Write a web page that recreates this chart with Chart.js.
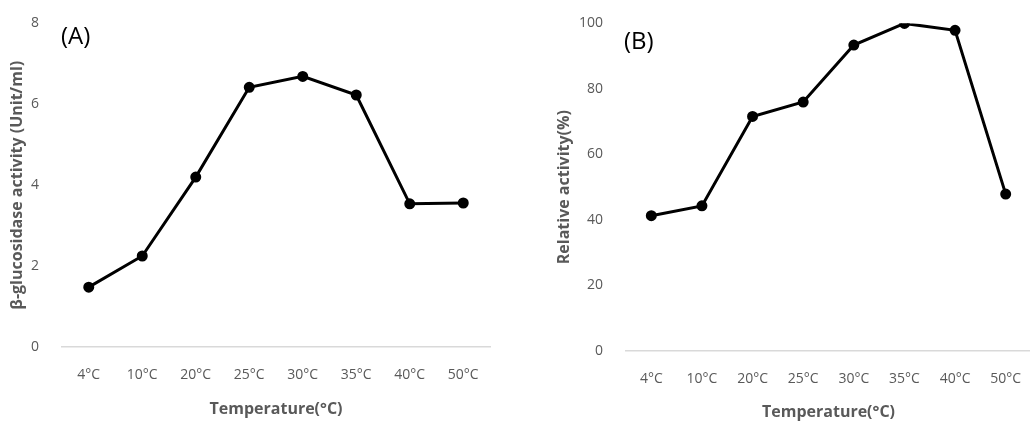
<!DOCTYPE html>
<html>
<head>
<meta charset="utf-8">
<script src="https://cdn.jsdelivr.net/npm/chart.js@4.4.0/dist/chart.umd.min.js"></script>
<style>
  html, body { margin: 0; padding: 0; background: #fff; overflow: hidden; }
  #wrap { position: relative; width: 1030px; height: 426px; overflow: hidden; }
  canvas { position: absolute; top: 0; }
  #chartA { left: 0; }
  #chartB { left: 515px; }
</style>
</head>
<body>
<div id="wrap">
  <canvas id="chartA" width="510" height="426"></canvas>
  <canvas id="chartB" width="523" height="426"></canvas>
</div>
<script>
const temps = ['4°C', '10°C', '20°C', '25°C', '30°C', '35°C', '40°C', '50°C'];
const activityA = [1.48, 2.25, 4.2, 6.42, 6.69, 6.23, 3.54, 3.56];
const relativeB = [41.3, 44.3, 71.6, 76.0, 93.4, 100, 97.9, 47.9];
const ticksA = [0, 2, 4, 6, 8];
const ticksB = [0, 20, 40, 60, 80, 100];

const fontFamily = "'Open Sans', 'Noto Sans', sans-serif";
const gray = '#595959';

// draws the (A) / (B) panel letter
const panelLabel = {
  id: 'panelLabel',
  afterDraw(chart, args, opts) {
    const ctx = chart.ctx;
    ctx.save();
    ctx.font = `24px ${fontFamily}`;
    ctx.fillStyle = '#000';
    ctx.textBaseline = 'middle';
    ctx.fillText(opts.text, opts.x, opts.y);
    ctx.restore();
  }
};

function makeChart(canvas, data, yTicks, yTitle, label, sizes) {
  const config = {
    type: 'line',
    data: {
      labels: temps,
      datasets: [{
        data,
        borderColor: '#000',
        backgroundColor: '#000',
        borderWidth: 3,
        pointRadius: 4,
        pointHoverRadius: 4,
        pointBackgroundColor: '#000',
        tension: 0
      }]
    },
    options: {
      responsive: false,
      animation: false,
      layout: { padding: sizes.padding },
      plugins: {
        legend: { display: false },
        tooltip: { enabled: false },
        panelLabel: label
      },
      scales: {
        x: {
          offset: true,
          grid: { display: false },
          border: { display: true, color: '#d9d9d9', width: 1.5 },
          ticks: { color: gray, font: { family: fontFamily, size: 14 }, padding: 12, maxRotation: 0 },
          title: {
            display: true,
            text: 'Temperature(°C)',
            color: gray,
            font: { family: fontFamily, size: 16, weight: 'bold' },
            padding: { top: 4, bottom: sizes.xTitleBottom }
          },
          afterFit: s => { s.height = sizes.xHeight; }
        },
        y: {
          min: yTicks[0],
          max: yTicks[yTicks.length - 1],
          grid: { display: false },
          border: { display: false },
          ticks: {
            stepSize: yTicks[1] - yTicks[0],
            color: gray,
            font: { family: fontFamily, size: 14 },
            padding: 15
          },
          title: {
            display: true,
            text: yTitle,
            color: gray,
            font: { family: fontFamily, size: 16, weight: 'bold' },
            padding: { top: sizes.yTitleLeft, bottom: 4 }
          },
          afterFit: s => { s.width = sizes.yWidth; }
        }
      }
    },
    plugins: [panelLabel]
  };
  return new Chart(canvas.getContext('2d'), config);
}

makeChart(document.getElementById('chartA'), activityA, ticksA,
  'β-glucosidase activity (Unit/ml)',
  { text: '(A)', x: 61, y: 37 },
  { padding: { top: 17, right: 20, left: 0, bottom: 0 }, xHeight: 79, yWidth: 62, xTitleBottom: 7, yTitleLeft: 8 });

makeChart(document.getElementById('chartB'), relativeB, ticksB,
  'Relative activity(%)',
  { text: '(B)', x: 109, y: 42 },
  { padding: { top: 17, right: 4, left: 0, bottom: 0 }, xHeight: 75, yWidth: 111, xTitleBottom: 4, yTitleLeft: 40 });
</script>
</body>
</html>
